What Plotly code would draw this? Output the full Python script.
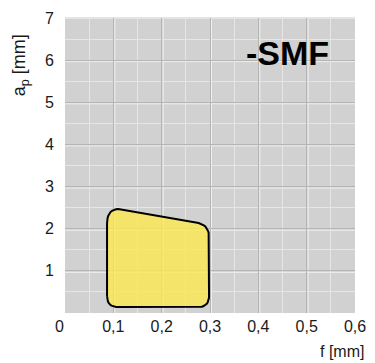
import numpy as np
import plotly.graph_objects as go

# ---- data ----
f_vertices = [0.087, 0.298, 0.298, 0.087]     # f [mm]
ap_vertices = [0.14, 0.14, 2.09, 2.53]        # a_p [mm]
corner_radius_px = [11, 11, 12, 17]
x_tick_vals = [0.1, 0.2, 0.3, 0.4, 0.5, 0.6]
x_tick_text = ["0,1", "0,2", "0,3", "0,4", "0,5", "0,6"]
y_tick_vals = [1, 2, 3, 4, 5, 6, 7]
y_tick_text = ["1", "2", "3", "4", "5", "6", "7"]
label = "-SMF"

# ---- layout geometry ----
W, H = 375, 363
ML, MR, MT, MB = 65, 20, 18, 50
XR, YR = (0, 0.6), (0, 7)
sx = (W - ML - MR) / (XR[1] - XR[0])
sy = (H - MT - MB) / (YR[1] - YR[0])

# rounded polygon (compute in pixel-equivalent space, convert back to data)
P = np.array([[x * sx, y * sy] for x, y in zip(f_vertices, ap_vertices)])
n = len(P)
px, py = [], []
for i in range(n):
    prev, cur, nxt = P[i - 1], P[i], P[(i + 1) % n]
    r = corner_radius_px[i]
    d1 = (prev - cur) / np.linalg.norm(prev - cur)
    d2 = (nxt - cur) / np.linalg.norm(nxt - cur)
    a, b = cur + d1 * r, cur + d2 * r
    for t in np.linspace(0, 1, 12):
        pt = (1 - t) ** 2 * a + 2 * (1 - t) * t * cur + t ** 2 * b
        px.append(pt[0] / sx)
        py.append(pt[1] / sy)
px.append(px[0]); py.append(py[0])

fig = go.Figure()
fig.add_trace(go.Scatter(
    x=px, y=py, mode="lines", fill="toself",
    fillcolor="rgba(252,232,80,0.8)",
    line=dict(color="black", width=2),
    hoverinfo="skip", showlegend=False,
))

# light highlight next to each major grid line (bevel look)
shapes = []
for xv in x_tick_vals[:-1]:
    shapes.append(dict(type="line", xref="x", yref="paper", xsizemode="pixel",
                       xanchor=xv, x0=1.5, x1=1.5, y0=0, y1=1, layer="between",
                       line=dict(color="#efefef", width=1)))
for yv in y_tick_vals[:-1]:
    shapes.append(dict(type="line", xref="paper", yref="y", ysizemode="pixel",
                       yanchor=yv, y0=-1.5, y1=-1.5, x0=0, x1=1, layer="between",
                       line=dict(color="#efefef", width=1)))
shapes.append(dict(type="line", xref="paper", yref="paper", x0=0, x1=1, y0=1, y1=1,
                   layer="between", line=dict(color="#e4e4e4", width=2)))

font = "Liberation Sans, Arial, sans-serif"
axis_common = dict(
    showline=False, zeroline=False, ticks="", automargin=False,
    gridcolor="#b4b4b4", gridwidth=1.3,
    tickfont=dict(family=font, size=16, color="#1a1a1a"),
    fixedrange=True,
)
fig.update_xaxes(range=list(XR), tickvals=x_tick_vals, ticktext=x_tick_text,
                 minor=dict(dtick=0.05, tick0=0, showgrid=True, gridcolor="#e6e6e6", gridwidth=1),
                 ticklabelstandoff=2, **axis_common)
fig.update_yaxes(range=list(YR), tickvals=y_tick_vals, ticktext=y_tick_text,
                 minor=dict(dtick=0.5, tick0=0, showgrid=True, gridcolor="#e6e6e6", gridwidth=1),
                 ticklabelstandoff=10, **axis_common)

fig.update_layout(
    width=W, height=H,
    margin=dict(l=ML, r=MR, t=MT, b=MB, pad=0, autoexpand=False),
    plot_bgcolor="#d1d1d1", paper_bgcolor="white",
    font=dict(family=font, color="#1a1a1a"),
    shapes=shapes,
    annotations=[
        dict(text=label, x=0.461, y=6.18, xref="x", yref="y", showarrow=False,
             font=dict(family=font, size=34, color="black", weight="bold"),
             xanchor="center", yanchor="middle"),
        dict(text="0", x=0, y=0, xref="x", yref="y", showarrow=False,
             xshift=-6, yshift=-13, xanchor="center", yanchor="middle",
             font=dict(family=font, size=16, color="#1a1a1a")),
        dict(text="a<sub>p</sub> [mm]", x=-0.155, y=0.84, xref="paper", yref="paper",
             textangle=-90, showarrow=False, xanchor="center", yanchor="middle",
             font=dict(family=font, size=18, color="#1a1a1a")),
        dict(text="f [mm]", x=1.038, y=-0.132, xref="paper", yref="paper",
             showarrow=False, xanchor="right", yanchor="middle",
             font=dict(family=font, size=16, color="#1a1a1a")),
    ],
)

fig.write_html("out.html", config={"displayModeBar": False},
               post_script="document.body.style.margin='0';")
